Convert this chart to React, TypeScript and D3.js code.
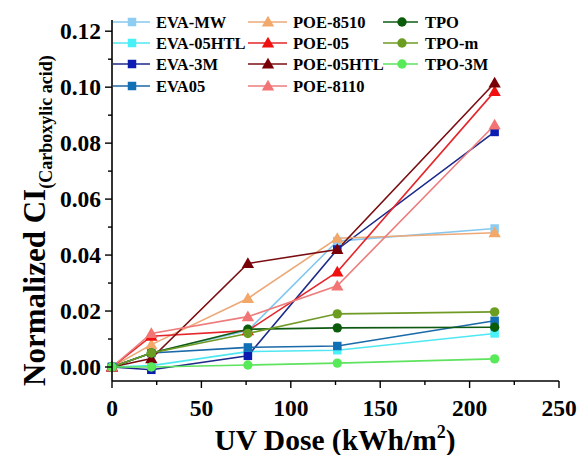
import React from "react";
import * as d3 from "d3";

const doses = [0, 22, 76, 126, 214];

const seriesNames = [
  "EVA-MW", "EVA-05HTL", "EVA-3M", "EVA05",
  "POE-8510", "POE-05", "POE-05HTL", "POE-8110",
  "TPO", "TPO-m", "TPO-3M",
];

const evaMW = [0, 0.005, 0.013, 0.045, 0.0495];
const eva05HTL = [0, 0.0005, 0.0055, 0.006, 0.012];
const eva3M = [0, -0.001, 0.004, 0.042, 0.084];
const eva05 = [0, 0.005, 0.007, 0.0075, 0.0165];
const poe8510 = [0, 0.008, 0.0245, 0.046, 0.048];
const poe05 = [0, 0.011, 0.013, 0.034, 0.0985];
const poe05HTL = [0, 0.003, 0.037, 0.042, 0.1015];
const poe8110 = [0, 0.012, 0.018, 0.029, 0.0865];
const tpo = [0, 0.005, 0.0135, 0.014, 0.0142];
const tpoM = [0, 0.005, 0.012, 0.019, 0.0197];
const tpo3M = [0, 0, 0.0007, 0.0014, 0.0029];

const seriesValues = [evaMW, eva05HTL, eva3M, eva05, poe8510, poe05, poe05HTL, poe8110, tpo, tpoM, tpo3M];

const lineColors = ["#86C8EE", "#4FE8F2", "#1C2A8A", "#1A69A8", "#EDA877", "#E5262A", "#7A0E12", "#EE7C7C", "#0E5A12", "#6F9A25", "#5DE35D"];
const markerColors = ["#8ECDF2", "#48F0F7", "#0C1CB0", "#1170B5", "#F2A868", "#F01010", "#7A0008", "#F27474", "#0A5C0A", "#6B9E20", "#58EA58"];
const markerShapes = ["square", "square", "square", "square", "triangle", "triangle", "triangle", "triangle", "circle", "circle", "circle"];

const xTicks = [0, 50, 100, 150, 200, 250];
const xMinor = [25, 75, 125, 175, 225];
const yTicks = [0, 0.02, 0.04, 0.06, 0.08, 0.1, 0.12];
const yMinor = [0.01, 0.03, 0.05, 0.07, 0.09, 0.11];

const FONT = "'Liberation Serif', 'Times New Roman', serif";

function Marker({ shape, x, y, color }: { shape: string; x: number; y: number; color: string }) {
  if (shape === "square") {
    const s = 8.5;
    return <rect x={x - s / 2} y={y - s / 2} width={s} height={s} fill={color} />;
  }
  if (shape === "triangle") {
    const sym = d3.symbol().type(d3.symbolTriangle).size(66)();
    return <path d={sym as string} transform={`translate(${x},${y + 1})`} fill={color} />;
  }
  return <circle cx={x} cy={y} r={4.7} fill={color} />;
}

export default function App() {
  const x = d3.scaleLinear().domain([0, 250]).range([112, 559]);
  const y = d3.scaleLinear().domain([-0.005, 0.124]).range([381, 20]);
  const line = d3
    .line<number>()
    .x((_, i) => x(doses[i]))
    .y((v) => y(v));

  const legendCols = [
    { lx1: 113, lx2: 150, mx: 132, tx: 156 },
    { lx1: 248, lx2: 287, mx: 268, tx: 293 },
    { lx1: 383, lx2: 418, mx: 402, tx: 425 },
  ];
  const legendRows = [22, 43, 64, 86];
  const colOf = [0, 0, 0, 0, 1, 1, 1, 1, 2, 2, 2];
  const rowOf = [0, 1, 2, 3, 0, 1, 2, 3, 0, 1, 2];

  return (
    <svg width={579} height={455} style={{ position: "absolute", left: 0, top: 0, background: "#fff" }}>
      {/* data lines */}
      {seriesValues.map((vals, si) => (
        <path key={"l" + si} d={line(vals) as string} fill="none" stroke={lineColors[si]} strokeWidth={1.6} />
      ))}
      {seriesValues.map((vals, si) =>
        vals.map((v, i) => (
          <Marker key={"m" + si + "-" + i} shape={markerShapes[si]} x={x(doses[i])} y={y(v)} color={markerColors[si]} />
        ))
      )}

      {/* axes */}
      <line x1={x(0)} x2={x(0)} y1={20} y2={381} stroke="#000" strokeWidth={1.6} />
      <line x1={112} x2={559} y1={381} y2={381} stroke="#000" strokeWidth={1.6} />
      {yTicks.map((t) => (
        <g key={"yt" + t}>
          <line x1={105} x2={112} y1={y(t)} y2={y(t)} stroke="#000" strokeWidth={1.4} />
          <text x={101} y={y(t)} dy="0.35em" textAnchor="end" fontFamily={FONT} fontWeight="bold" fontSize={23.5}>
            {d3.format(".2f")(t)}
          </text>
        </g>
      ))}
      {yMinor.map((t) => (
        <line key={"ym" + t} x1={108} x2={112} y1={y(t)} y2={y(t)} stroke="#000" strokeWidth={1.4} />
      ))}
      {xTicks.map((t) => (
        <g key={"xt" + t}>
          <line x1={x(t)} x2={x(t)} y1={381} y2={388} stroke="#000" strokeWidth={1.4} />
          <text x={x(t)} y={416} textAnchor="middle" fontFamily={FONT} fontWeight="bold" fontSize={23.5}>
            {t}
          </text>
        </g>
      ))}
      {xMinor.map((t) => (
        <line key={"xm" + t} x1={x(t)} x2={x(t)} y1={381} y2={385} stroke="#000" strokeWidth={1.4} />
      ))}

      {/* axis titles */}
      <text x={335} y={450} textAnchor="middle" fontFamily={FONT} fontWeight="bold" fontSize={29.5}>
        UV Dose (kWh/m<tspan dy={-12} fontSize={18}>2</tspan>
        <tspan dy={12}>)</tspan>
      </text>
      <text
        transform="translate(45,386) rotate(-90)"
        textAnchor="start"
        fontFamily={FONT}
        fontWeight="bold"
        fontSize={31}
      >
        Normalized CI
        <tspan dy={7} fontSize={18}>(Carboxylic acid)</tspan>
      </text>

      {/* legend */}
      {seriesNames.map((name, si) => {
        const c = legendCols[colOf[si]];
        const ry = legendRows[rowOf[si]];
        return (
          <g key={"lg" + si}>
            <line x1={c.lx1} x2={c.lx2} y1={ry} y2={ry} stroke={lineColors[si]} strokeWidth={1.6} />
            <Marker shape={markerShapes[si]} x={c.mx} y={ry} color={markerColors[si]} />
            <text x={c.tx} y={ry} dy="0.35em" fontFamily={FONT} fontWeight="bold" fontSize={16.5}>
              {name}
            </text>
          </g>
        );
      })}
    </svg>
  );
}
